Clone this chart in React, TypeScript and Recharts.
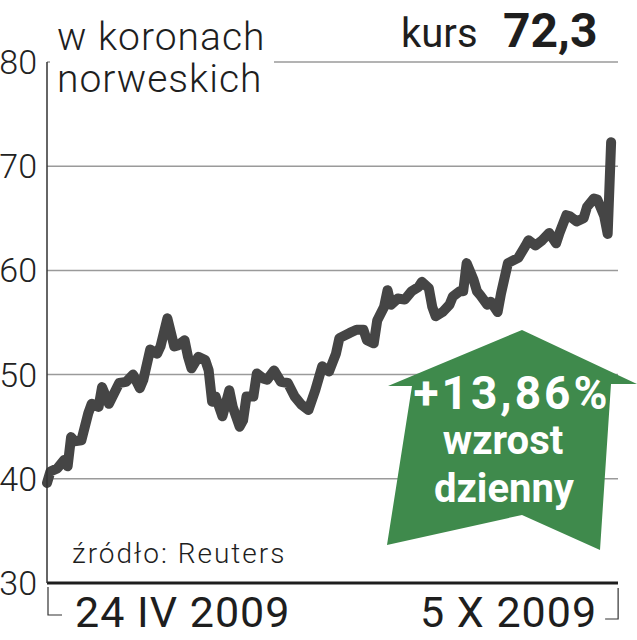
import React from 'react';
import { LineChart, Line, XAxis, YAxis, CartesianGrid } from 'recharts';

// trading days counted from 24 IV 2009
const days = [
  0, 1, 3, 5, 6, 7, 8, 10, 12, 13, 15, 16, 18, 21, 23, 25, 27, 28, 30, 32, 33, 35, 37, 38, 40,
  41, 42, 44, 46, 47, 48, 49, 51, 53, 54, 56, 57, 58, 60, 61, 63, 64, 66, 68, 70, 72, 74, 76, 78,
  80, 82, 84, 85, 88, 90, 92, 93, 95, 96, 98, 99, 100, 102, 104, 106, 108, 109, 111, 112, 113,
  115, 117, 118, 120, 121, 122, 124, 125, 126, 128, 129, 131, 132, 134, 137, 139, 140, 142, 144,
  146, 148, 149, 151, 152, 154, 156, 157, 159, 160, 162, 163, 164,
];

// NOK
const prices = [
  39.6, 40.7, 41.0, 41.8, 41.2, 44.0, 43.6, 43.7, 46.3, 47.2, 46.9, 48.8, 47.2, 49.2, 49.3, 50.0,
  48.7, 49.5, 52.4, 52.0, 52.7, 55.4, 52.7, 52.8, 53.3, 51.7, 50.6, 51.7, 51.4, 50.4, 47.4, 47.9,
  46.0, 48.5, 46.9, 45.0, 45.6, 47.9, 47.9, 50.1, 49.6, 49.5, 50.4, 49.3, 49.2, 47.9, 47.1, 46.6,
  48.5, 50.8, 50.3, 52.0, 53.5, 54.0, 54.3, 54.3, 53.3, 53.0, 55.2, 56.5, 58.1, 56.7, 57.3, 57.2,
  58.0, 58.4, 58.9, 58.3, 56.5, 55.6, 56.0, 56.7, 57.5, 58.0, 58.0, 60.7, 59.1, 58.0, 57.6, 56.7,
  57.0, 56.0, 57.8, 60.7, 61.2, 62.3, 62.9, 62.4, 62.9, 63.6, 62.6, 63.6, 65.3, 65.2, 64.7, 65.0,
  66.1, 66.9, 66.8, 65.2, 63.5, 72.3,
];

const yTicks = [30, 40, 50, 60, 70, 80];
const xTicks = [0, 164];
const xTickLabels = ['24 IV 2009', '5 X 2009'];

const data = days.map((d, i) => ({ day: d, price: prices[i] }));

const FONT = 'Roboto, "Liberation Sans", sans-serif';
const GREEN = '#3f8a4c';

const DateTick = (props: any) => {
  const { x, y, payload, index } = props;
  const first = index === 0;
  const label = xTickLabels[xTicks.indexOf(payload.value)];
  return (
    <g>
      {first ? (
        <path d={`M${x + 1} ${y + 4} V${y + 32} H${x + 15}`} fill="none" stroke="#333" strokeWidth={1.2} />
      ) : (
        <path d={`M${x + 7} ${y + 5} V${y + 36} H${x - 6}`} fill="none" stroke="#333" strokeWidth={1.2} />
      )}
      <text
        x={first ? x + 28 : x - 14}
        y={y + 44}
        textAnchor={first ? 'start' : 'end'}
        fontFamily={FONT}
        fontSize={43}
        letterSpacing={1}
        fill="#1e1e1e"
      >
        {label}
      </text>
    </g>
  );
};

export default function App() {
  return (
    <div style={{ position: 'absolute', left: 0, top: 0, width: 637, height: 640, background: '#fff' }}>
      <LineChart width={637} height={640} data={data} margin={{ top: 62, right: 19, bottom: 0, left: 0 }}>
        <CartesianGrid vertical={false} stroke="#9a9a9a" strokeWidth={1.5} />
        <XAxis
          dataKey="day"
          type="number"
          domain={[0, 166]}
          ticks={xTicks}
          height={57}
          tickLine={false}
          tickSize={0}
          tickMargin={0}
          axisLine={{ stroke: '#1e1e1e', strokeWidth: 3 }}
          tick={<DateTick />}
        />
        <YAxis
          domain={[30, 80]}
          ticks={yTicks}
          width={47}
          tickLine={false}
          tickSize={0}
          tickMargin={10}
          axisLine={{ stroke: '#333', strokeWidth: 1.5 }}
          tick={{ fontFamily: FONT, fontSize: 34, fontWeight: 300, fill: '#222' }}
        />
        <Line
          dataKey="price"
          type="linear"
          stroke="#454545"
          strokeWidth={10}
          strokeLinejoin="round"
          strokeLinecap="round"
          dot={false}
          isAnimationActive={false}
        />
      </LineChart>
      <svg
        width={637}
        height={640}
        style={{ position: 'absolute', left: 0, top: 0, pointerEvents: 'none' }}
        fontFamily={FONT}
      >
        <rect x={50} y={54} width={224} height={16} fill="#fff" />
        <text x={57} y={50} fontSize={39} fontWeight={300} letterSpacing={1} fill="#1e1e1e">w koronach</text>
        <text x={57} y={92} fontSize={39} fontWeight={300} letterSpacing={1} fill="#1e1e1e">norweskich</text>
        <text x={401} y={47} fontSize={40} fill="#1e1e1e">kurs</text>
        <text x={503} y={47} fontSize={48} fontWeight={700} fill="#1e1e1e">72,3</text>
        <text x={72} y={563} fontSize={28} fontWeight={300} fill="#1e1e1e" letterSpacing={2}>źródło: Reuters</text>
        <polygon
          points="522,330 637,384 611,384 600,550 522,515 387,545 412,386 388,386"
          fill={GREEN}
        />
        <text x={512} y={409} textAnchor="middle" fontSize={46} fontWeight={700} fill="#fff" letterSpacing={3}>+13,86%</text>
        <text x={503} y={454} textAnchor="middle" fontSize={40} fontWeight={700} fill="#fff">wzrost</text>
        <text x={504} y={502} textAnchor="middle" fontSize={40} fontWeight={700} fill="#fff">dzienny</text>
      </svg>
    </div>
  );
}
